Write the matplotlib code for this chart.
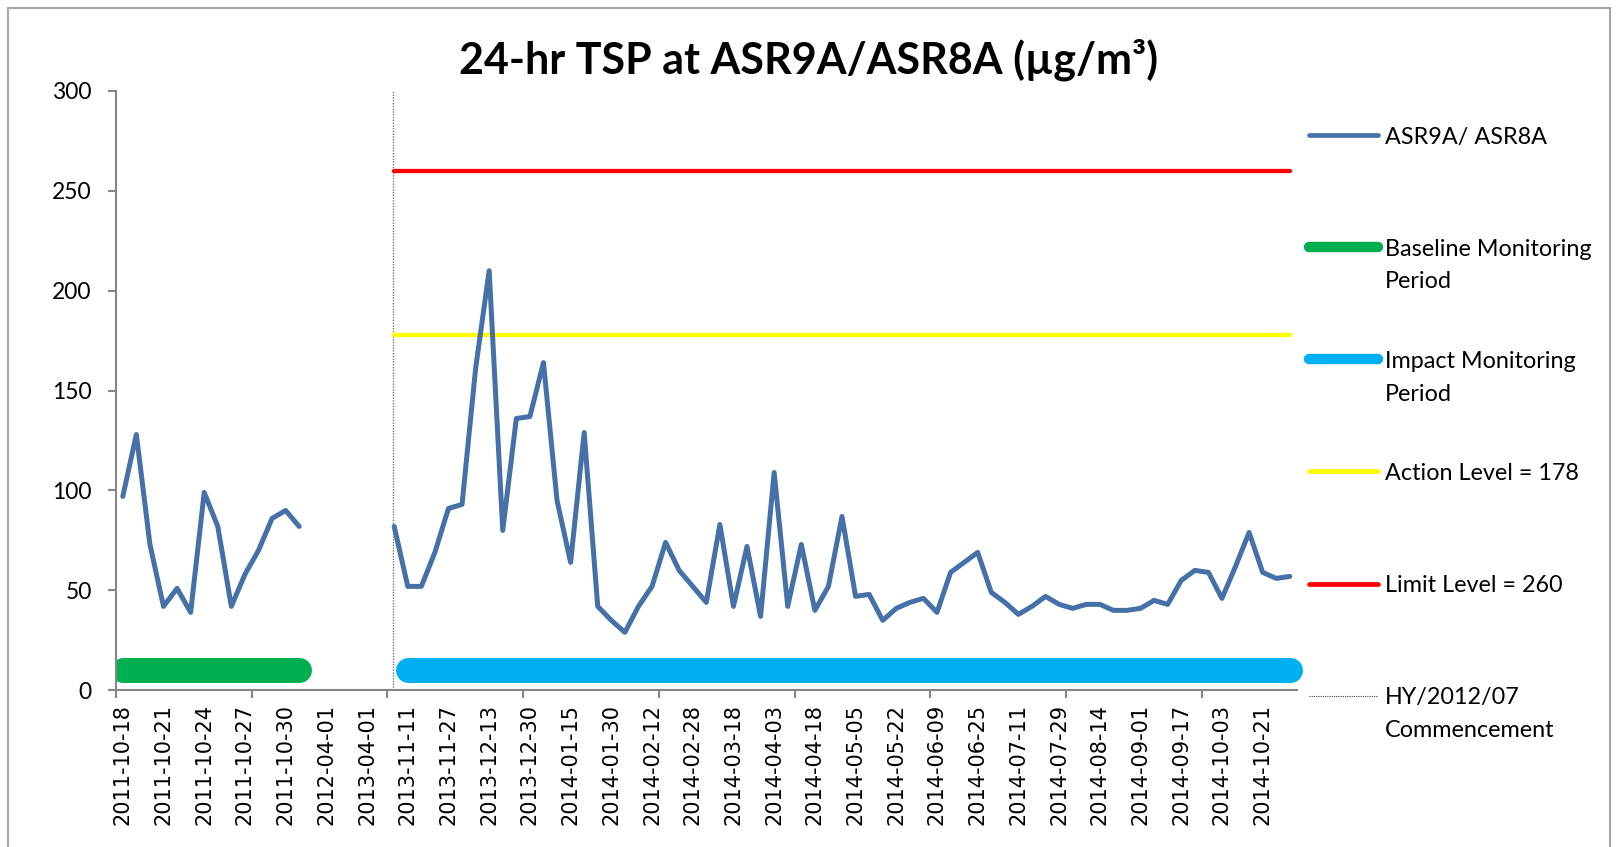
import numpy as np
import matplotlib.pyplot as plt
from matplotlib.patches import Rectangle

# 24-hr TSP readings (ug/m3), baseline period then impact period
baseline_tsp = [97, 128, 73, 42, 51, 39, 99, 82, 42, 58, 70, 86, 90, 82]
impact_tsp = [82, 52, 52, 69, 91, 93, 161, 210, 80, 136,
              137, 164, 95, 64, 129, 42, 35, 29, 42, 52,
              74, 60, 52, 44, 83, 42, 72, 37, 109, 42,
              73, 40, 52, 87, 47, 48, 35, 41, 44, 46,
              39, 59, 64, 69, 49, 44, 38, 42, 47, 43,
              41, 43, 43, 40, 40, 41, 45, 43, 55, 60,
              59, 46, 62, 79, 59, 56, 57]
n_gap = 6  # empty categories between the two periods

tick_labels = ['2011-10-18', '2011-10-21', '2011-10-24', '2011-10-27', '2011-10-30',
               '2012-04-01', '2013-04-01', '2013-11-11', '2013-11-27', '2013-12-13',
               '2013-12-30', '2014-01-15', '2014-01-30', '2014-02-12', '2014-02-28',
               '2014-03-18', '2014-04-03', '2014-04-18', '2014-05-05', '2014-05-22',
               '2014-06-09', '2014-06-25', '2014-07-11', '2014-07-29', '2014-08-14',
               '2014-09-01', '2014-09-17', '2014-10-03', '2014-10-21']
label_step = 3

action_level = 178
limit_level = 260
period_bar_level = 10

c_data = '#4570A8'
c_base = '#00B050'
c_impact = '#00B0F0'
c_action = '#FFFF00'
c_limit = '#FF0000'
grey = '#868686'

W, H = 1618, 847
fig = plt.figure(figsize=(W / 100, H / 100), dpi=100)
ax = fig.add_axes([116 / W, 1 - 690.3 / H, 1180.6 / W, 599.5 / H])

x_base = np.arange(len(baseline_tsp))
x_imp = np.arange(len(impact_tsp)) + len(baseline_tsp) + n_gap
n_cat = x_imp[-1] + 1

# period bars
ax.plot(x_base, [period_bar_level] * len(x_base), color=c_base, lw=18,
        solid_capstyle='round', zorder=2)
ax.plot(x_imp[1:], [period_bar_level] * (len(x_imp) - 1), color=c_impact, lw=18,
        solid_capstyle='round', zorder=2, clip_on=False)

# criteria levels
ax.plot(x_imp[[0, -1]], [limit_level] * 2, color=c_limit, lw=3.1,
        solid_capstyle='round', zorder=3)
ax.plot(x_imp[[0, -1]], [action_level] * 2, color=c_action, lw=3.1,
        solid_capstyle='round', zorder=3)

# commencement marker
ax.vlines(x_imp[0] - 0.1, 0, 300, colors='#707070', linestyles=(0, (1, 1)), lw=1, zorder=1)

# data
for xs, ys in [(x_base, baseline_tsp), (x_imp, impact_tsp)]:
    ax.plot(xs, ys, color=c_data, lw=3.6, solid_joinstyle='round',
            solid_capstyle='round', zorder=4)

ax.set_xlim(-0.5, n_cat - 0.5)
ax.set_ylim(0, 300)
ax.set_yticks(range(0, 301, 50))
ax.set_xticks(range(0, n_cat, label_step))
ax.set_xticklabels(tick_labels, rotation=90, fontfamily='DejaVu Sans', fontsize=15)
ax.set_xticks(np.arange(-0.5, n_cat - 1, 10), minor=True)
ax.tick_params(axis='x', which='major', length=0, pad=10)
ax.tick_params(axis='x', which='minor', length=5.5, width=1.5, color=grey)
ax.tick_params(axis='y', length=5.5, width=1.5, color=grey, pad=12)
for lab in ax.get_yticklabels():
    lab.set_fontfamily('Lato')
    lab.set_fontsize(16.5)
for s in ['top', 'right']:
    ax.spines[s].set_visible(False)
for s in ['left', 'bottom']:
    ax.spines[s].set_color(grey)
    ax.spines[s].set_linewidth(1.5)

fig.text(809 / W, 1 - 60 / H, '24-hr TSP at ASR9A/ASR8A (µg/m³)', ha='center',
         va='center', fontfamily='Lato', fontweight='bold', fontsize=31)

# legend, drawn by hand so that the handle lines up with the first text line
legend_items = [('ASR9A/ ASR8A', c_data, 3.4, '-'),
                ('Baseline Monitoring\nPeriod', c_base, 7.5, '-'),
                ('Impact Monitoring\nPeriod', c_impact, 7.5, '-'),
                ('Action Level = 178', c_action, 3.4, '-'),
                ('Limit Level = 260', c_limit, 3.4, '-'),
                ('HY/2012/07\nCommencement', '#404040', 0.8, (0, (1, 1)))]
y0, step, line_h = 0.926, 0.187, 0.0545
for i, (label, col, lw, ls) in enumerate(legend_items):
    y = y0 - i * step
    ax.plot([1.0105, 1.069], [y, y], transform=ax.transAxes, color=col, lw=lw, ls=ls,
            solid_capstyle='round', clip_on=False)
    for j, part in enumerate(label.split('\n')):
        ax.text(1.0745, y - j * line_h, part, transform=ax.transAxes, va='center_baseline',
                ha='left', fontfamily='Lato', fontsize=16.8)

fig.add_artist(Rectangle((8 / W, -0.1), 1602 / W, 1.1 - 8 / H, transform=fig.transFigure,
                         fill=False, edgecolor='#A6A6A6', lw=1.5))

fig.savefig('out.png', dpi=100)
